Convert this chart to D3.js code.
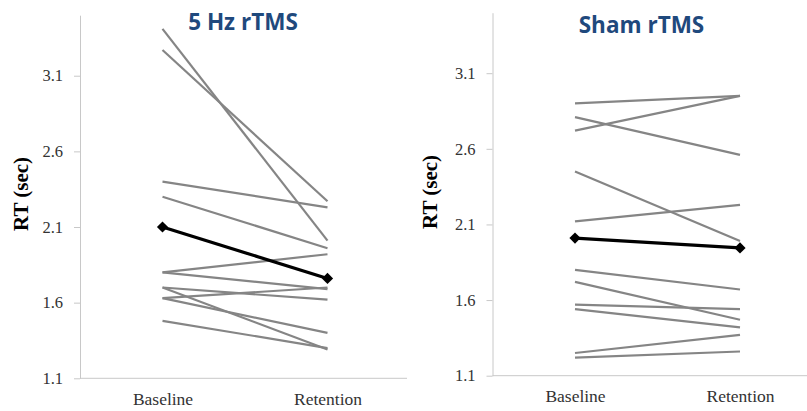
<!DOCTYPE html>
<html>
<head>
<meta charset="utf-8">
<script src="https://cdn.jsdelivr.net/npm/d3@7"></script>
<style>
  body { margin: 0; background: #fff; }
</style>
</head>
<body>
<div id="chart"></div>
<script>
var svgWidth = 807;
var svgHeight = 411;
var serif = "Liberation Serif, Times New Roman, serif";

// data
var phases = ["Baseline", "Retention"];
var yTicks = [1.1, 1.6, 2.1, 2.6, 3.1];

var hzTitle = "5 Hz rTMS";
var hzBaseline  = [3.41, 3.27, 2.40, 2.30, 1.80, 1.80, 1.70, 1.70, 1.63, 1.63, 1.48];
var hzRetention = [2.01, 2.27, 2.23, 1.96, 1.92, 1.69, 1.62, 1.29, 1.70, 1.40, 1.30];
var hzMean = [2.10, 1.76];

var shamTitle = "Sham rTMS";
var shamBaseline  = [2.90, 2.81, 2.72, 2.45, 2.12, 1.80, 1.72, 1.57, 1.54, 1.25, 1.22];
var shamRetention = [2.95, 2.56, 2.95, 1.99, 2.23, 1.67, 1.47, 1.54, 1.42, 1.37, 1.26];
var shamMean = [2.01, 1.945];

var svg = d3.select("#chart")
  .append("svg")
  .attr("width", svgWidth)
  .attr("height", svgHeight);

// one panel = one little chart
function drawPanel(opts) {
  var g = svg.append("g");

  var xScale = d3.scalePoint()
    .domain(phases)
    .range([opts.left, opts.left + 330])
    .padding(0.5);

  var yScale = d3.scaleLinear()
    .domain([1.1, 3.5])
    .range([opts.bottom, opts.top]);

  // y axis
  var yAxis = d3.axisLeft(yScale)
    .tickValues(yTicks)
    .tickFormat(d3.format(".1f"))
    .tickSize(6)
    .tickSizeOuter(0)
    .tickPadding(11);

  var yG = g.append("g")
    .attr("transform", `translate(${opts.left}, 0)`)
    .call(yAxis)
    .attr("font-family", serif)
    .attr("font-size", 16.5);
  yG.select(".domain").attr("stroke", "#c8c8c8");
  yG.selectAll(".tick line").attr("stroke", "#c8c8c8");
  yG.selectAll(".tick text").attr("fill", "#333");

  // x axis
  var xAxis = d3.axisBottom(xScale).tickSize(0).tickPadding(14);
  var xG = g.append("g")
    .attr("transform", `translate(0, ${opts.bottom})`)
    .call(xAxis)
    .attr("font-family", serif)
    .attr("font-size", 17.5);
  xG.select(".domain")
    .attr("stroke", "#c8c8c8")
    .attr("d", `M${opts.left},0H${opts.axisEnd}`);
  xG.selectAll(".tick text").attr("fill", "#333");

  // subject lines
  var line = d3.line()
    .x(function(d, i) { return xScale(phases[i]); })
    .y(function(d) { return yScale(d); });

  var subjects = opts.base.map(function(b, i) { return [b, opts.ret[i]]; });

  g.selectAll(".subject")
    .data(subjects)
    .enter()
    .append("path")
    .attr("class", "subject")
    .attr("d", line)
    .attr("fill", "none")
    .attr("stroke", "#858585")
    .attr("stroke-width", 2.2);

  // group mean
  g.append("path")
    .datum(opts.mean)
    .attr("d", line)
    .attr("fill", "none")
    .attr("stroke", "#000")
    .attr("stroke-width", 3.2);

  g.selectAll(".meanpt")
    .data(opts.mean)
    .enter()
    .append("path")
    .attr("class", "meanpt")
    .attr("d", d3.symbol().type(d3.symbolDiamond2).size(80))
    .attr("transform", function(d, i) {
      return `translate(${xScale(phases[i])}, ${yScale(d)})`;
    })
    .attr("fill", "#000");

  // title
  g.append("text")
    .attr("x", opts.titleX)
    .attr("y", opts.titleY)
    .attr("text-anchor", "middle")
    .attr("font-family", "Open Sans, sans-serif")
    .attr("font-weight", "bold")
    .attr("font-size", 22.5)
    .attr("fill", "#1f497d")
    .text(opts.title);

  // y label
  g.append("text")
    .attr("transform", `translate(${opts.labelX}, ${opts.labelY}) rotate(-90)`)
    .attr("text-anchor", "middle")
    .attr("font-family", serif)
    .attr("font-weight", "bold")
    .attr("font-size", 21)
    .attr("fill", "#000")
    .text("RT (sec)");
}

drawPanel({
  left: 80, top: 15.2, bottom: 378.3, axisEnd: 407,
  base: hzBaseline, ret: hzRetention, mean: hzMean,
  title: hzTitle, titleX: 243, titleY: 29.5,
  labelX: 27.5, labelY: 194
});

drawPanel({
  left: 492.5, top: 12.7, bottom: 375.7, axisEnd: 807,
  base: shamBaseline, ret: shamRetention, mean: shamMean,
  title: shamTitle, titleX: 641.5, titleY: 32.5,
  labelX: 437, labelY: 192
});
</script>
</body>
</html>
